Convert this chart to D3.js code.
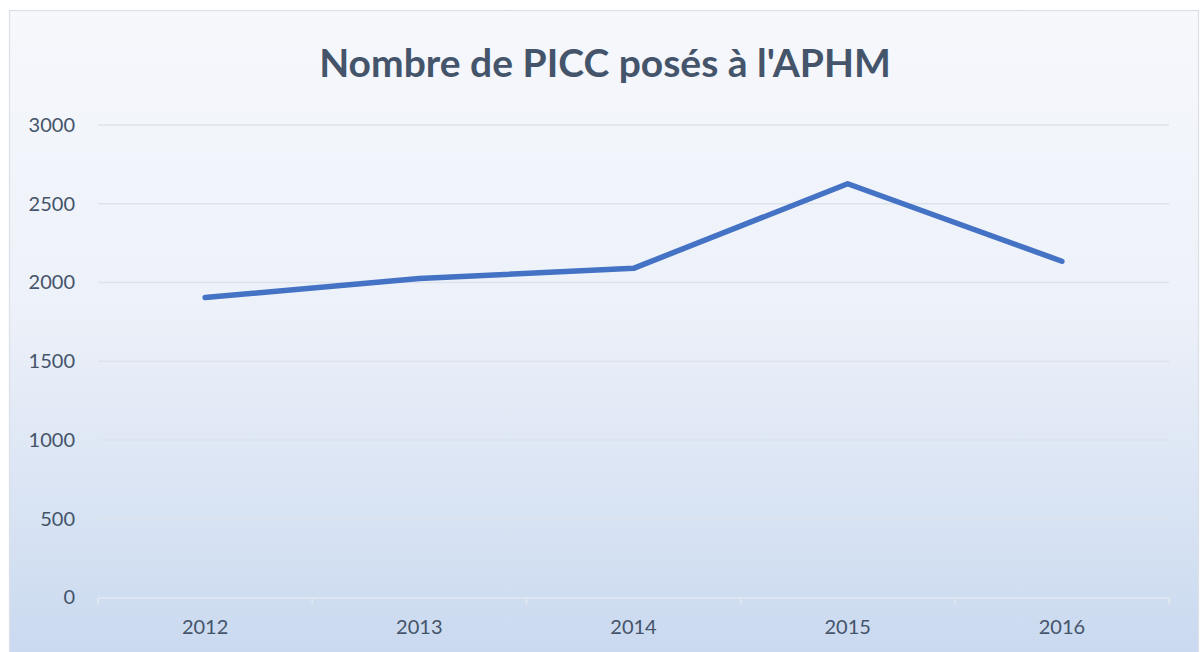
<!DOCTYPE html>
<html>
<head>
<meta charset="utf-8">
<script src="https://cdn.jsdelivr.net/npm/d3@7"></script>
<style>
  body { margin: 0; background: #fff; }
  svg { display: block; }
</style>
</head>
<body>
<script>
var years = ["2012", "2013", "2014", "2015", "2016"];
var piccCount = [1905, 2025, 2090, 2627, 2135];
var yTicks = [0, 500, 1000, 1500, 2000, 2500, 3000];
var title = "Nombre de PICC posés à l'APHM";

var W = 1200, H = 652;
var margin = {top: 125, right: 31, bottom: 55, left: 98};
var width = 1169 - margin.left, height = 597.5 - margin.top;

var svg = d3.select("body").append("svg")
    .attr("width", W)
    .attr("height", H);

var defs = svg.append("defs");
var grad = defs.append("linearGradient")
    .attr("id", "bg")
    .attr("x1", 0).attr("y1", 0).attr("x2", 0).attr("y2", 1);
grad.append("stop").attr("offset", "0%").attr("stop-color", "#f6f8fc");
grad.append("stop").attr("offset", "45%").attr("stop-color", "#edf1f9");
grad.append("stop").attr("offset", "100%").attr("stop-color", "#c8d8ef");

// chart frame
svg.append("rect")
    .attr("x", 9.5).attr("y", 10.5)
    .attr("width", 1189).attr("height", 660)
    .attr("fill", "url(#bg)")
    .attr("stroke", "#dadfe8")
    .attr("stroke-width", 1.2);

svg.append("text")
    .attr("x", 605)
    .attr("y", 77)
    .attr("text-anchor", "middle")
    .attr("fill", "#44546a")
    .attr("font-family", "Lato, 'Open Sans', sans-serif")
    .attr("font-weight", "bold")
    .attr("font-size", "39px")
    .text(title);

var g = svg.append("g")
    .attr("transform", "translate(" + margin.left + "," + margin.top + ")");

var x = d3.scaleBand().domain(years).range([0, width]);
var y = d3.scaleLinear().domain([0, 3000]).range([height, 0]);

// gridlines
g.append("g")
    .selectAll("line")
    .data(yTicks.filter(d => d > 0))
    .join("line")
    .attr("x1", 0).attr("x2", width)
    .attr("y1", d => y(d)).attr("y2", d => y(d))
    .attr("stroke", "#dde3ec")
    .attr("stroke-width", 1.5);

// y axis labels
var yAxis = g.append("g")
    .call(d3.axisLeft(y).tickValues(yTicks).tickFormat(d3.format("d")).tickSize(0).tickPadding(23));
yAxis.select(".domain").remove();
yAxis.selectAll("text")
    .attr("fill", "#44546a")
    .attr("font-family", "Lato, 'Open Sans', sans-serif")
    .attr("font-size", "20px");

// x axis
var xAxis = g.append("g")
    .attr("transform", "translate(0," + height + ")")
    .call(d3.axisBottom(x).tickSize(0).tickPadding(22));
xAxis.select(".domain")
    .attr("stroke", "#e2e7ef")
    .attr("stroke-width", 1.5);
xAxis.selectAll("text")
    .attr("fill", "#44546a")
    .attr("font-family", "Lato, 'Open Sans', sans-serif")
    .attr("font-size", "20px");

// category boundary ticks
g.append("g")
    .selectAll("line")
    .data(years.concat(["end"]))
    .join("line")
    .attr("x1", (d, i) => i * x.step())
    .attr("x2", (d, i) => i * x.step())
    .attr("y1", height)
    .attr("y2", height + 7)
    .attr("stroke", "#e2e7ef")
    .attr("stroke-width", 1.5);

var line = d3.line()
    .x((d, i) => x(years[i]) + x.bandwidth() / 2)
    .y(d => y(d));

g.append("path")
    .datum(piccCount)
    .attr("d", line)
    .attr("fill", "none")
    .attr("stroke", "#4472c4")
    .attr("stroke-width", 5.5)
    .attr("stroke-linecap", "round")
    .attr("stroke-linejoin", "round");
</script>
</body>
</html>
